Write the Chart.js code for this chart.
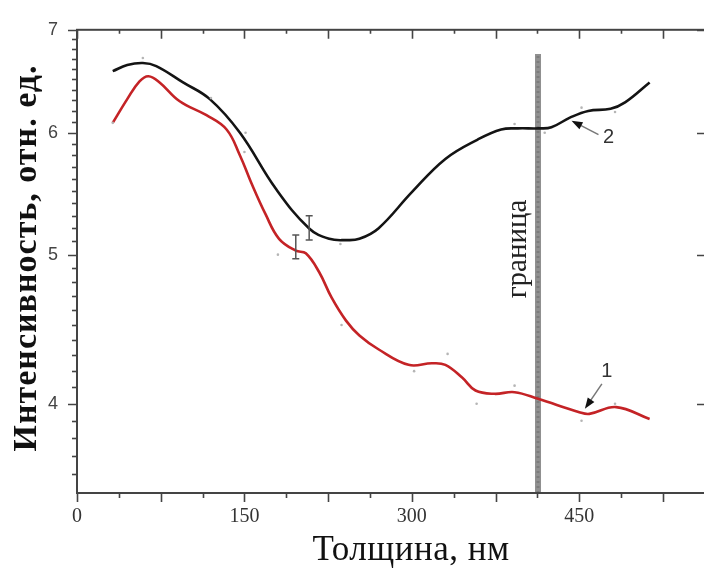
<!DOCTYPE html>
<html>
<head>
<meta charset="utf-8">
<script src="https://cdn.jsdelivr.net/npm/chart.js@4"></script>
<style>
  html, body { margin: 0; padding: 0; background: #fff; overflow: hidden; }
</style>
</head>
<body>
<canvas id="graphCanvas" width="710" height="568"></canvas>
<script>
// Curve 2 (black): intensity vs thickness
const thicknessBlack = [32, 45, 59, 71, 95, 119, 146, 178, 208, 226, 241, 253, 270, 300, 330, 359, 380, 395, 414, 425, 442, 458, 478, 491, 513];
const intensityBlack = [6.58, 6.64, 6.66, 6.63, 6.47, 6.31, 6.00, 5.52, 5.20, 5.12, 5.11, 5.12, 5.20, 5.49, 5.77, 5.94, 6.03, 6.04, 6.04, 6.05, 6.14, 6.20, 6.22, 6.28, 6.47];

// Curve 1 (red)
const thicknessRed = [32, 45, 56, 64, 74, 92, 116, 134, 146, 156, 169, 181, 196, 205, 217, 228, 241, 253, 270, 297, 318, 330, 345, 357, 374, 392, 413, 450, 459, 483, 513];
const intensityRed = [6.09, 6.31, 6.48, 6.53, 6.47, 6.29, 6.16, 6.03, 5.80, 5.57, 5.31, 5.12, 5.03, 5.01, 4.87, 4.69, 4.53, 4.43, 4.34, 4.24, 4.25, 4.24, 4.16, 4.08, 4.06, 4.07, 4.03, 3.95, 3.94, 3.98, 3.91];

// Measured points behind the curves
const dotsBlackX = [59, 120, 151, 236, 392, 419, 452, 482];
const dotsBlackY = [6.71, 6.32, 6.00, 5.08, 6.08, 6.00, 6.23, 6.19];
const dotsRedX = [32, 150, 180, 237, 302, 332, 358, 392, 452, 482];
const dotsRedY = [6.09, 5.83, 5.00, 4.50, 4.20, 4.31, 4.00, 4.11, 3.90, 4.00];

// Error bars
const errX = [196, 208];
const errLow = [4.97, 5.11];
const errHigh = [5.15, 5.30];

// Boundary line
const boundaryX = 413;
const boundaryTop = 6.75;

// Axis ticks
const xTickLabels = [0, 150, 300, 450];
const yTickLabels = [4, 5, 6, 7];

// Curve labels: where each arrow points
const curveLabels = [
  { text: '2', x: 443, y: 6.11, dx: 27, dy: 14 },
  { text: '1', x: 455, y: 3.97, dx: 17, dy: -25 }
];

const toXY = (xs, ys) => xs.map((x, i) => ({ x: x, y: ys[i] }));

const decorPlugin = {
  id: 'decor',
  afterDraw(chart) {
    const ctx = chart.ctx;
    const a = chart.chartArea;
    const xs = chart.scales.x, ys = chart.scales.y;
    ctx.save();

    // frame
    ctx.strokeStyle = '#444';
    ctx.lineWidth = 2;
    ctx.strokeRect(a.left, a.top, a.right - a.left, a.bottom - a.top);

    // x ticks: bottom outward, top inward
    ctx.lineWidth = 1.6;
    for (let v = 0; v <= xs.max; v += 37.5) {
      const px = Math.round(xs.getPixelForValue(v)) + 0.5;
      const major = v % 75 === 0;
      ctx.beginPath();
      ctx.moveTo(px, a.bottom);
      ctx.lineTo(px, a.bottom + (major ? 9 : 5));
      ctx.moveTo(px, a.top);
      ctx.lineTo(px, a.top + (major ? 9 : 4));
      ctx.stroke();
    }
    // y ticks: left outward with minors, right inward (majors only)
    for (let k = 36; k <= 70; k++) {
      const v = k / 10;
      const py = Math.round(ys.getPixelForValue(v)) + 0.5;
      const major = k % 10 === 0;
      ctx.beginPath();
      ctx.moveTo(a.left, py);
      ctx.lineTo(a.left - (major ? 9 : 5), py);
      if (major) {
        ctx.moveTo(a.right, py);
        ctx.lineTo(a.right - 9, py);
      }
      ctx.stroke();
    }

    // error bars
    ctx.strokeStyle = '#555';
    ctx.lineWidth = 1.5;
    errX.forEach((x, i) => {
      const px = xs.getPixelForValue(x);
      const p1 = ys.getPixelForValue(errLow[i]);
      const p2 = ys.getPixelForValue(errHigh[i]);
      ctx.beginPath();
      ctx.moveTo(px, p1); ctx.lineTo(px, p2);
      ctx.moveTo(px - 3.5, p1); ctx.lineTo(px + 3.5, p1);
      ctx.moveTo(px - 3.5, p2); ctx.lineTo(px + 3.5, p2);
      ctx.stroke();
    });

    // arrows with curve numbers
    curveLabels.forEach(l => {
      const tx = xs.getPixelForValue(l.x), ty = ys.getPixelForValue(l.y);
      const sx = tx + l.dx, sy = ty + l.dy;
      const ang = Math.atan2(ty - sy, tx - sx);
      ctx.strokeStyle = '#777';
      ctx.lineWidth = 1.5;
      ctx.beginPath();
      ctx.moveTo(sx, sy);
      ctx.lineTo(tx - 6 * Math.cos(ang), ty - 6 * Math.sin(ang));
      ctx.stroke();
      ctx.fillStyle = '#111';
      ctx.beginPath();
      ctx.moveTo(tx, ty);
      ctx.lineTo(tx - 11 * Math.cos(ang) + 4 * Math.sin(ang), ty - 11 * Math.sin(ang) - 4 * Math.cos(ang));
      ctx.lineTo(tx - 11 * Math.cos(ang) - 4 * Math.sin(ang), ty - 11 * Math.sin(ang) + 4 * Math.cos(ang));
      ctx.closePath();
      ctx.fill();
      ctx.fillStyle = '#333';
      ctx.font = '20px "Liberation Sans", Arial, sans-serif';
      ctx.textAlign = 'center';
      ctx.textBaseline = 'middle';
      if (l.dy > 0) ctx.fillText(l.text, sx + 10, sy + 3);
      else ctx.fillText(l.text, sx + 5, sy - 12);
    });

    // boundary caption
    ctx.fillStyle = '#222';
    ctx.font = '29px "Liberation Serif", serif';
    ctx.textAlign = 'center';
    ctx.textBaseline = 'middle';
    ctx.translate(xs.getPixelForValue(boundaryX) - 20, 249);
    ctx.rotate(-Math.PI / 2);
    ctx.fillText('граница', 0, 0);
    ctx.setTransform(1, 0, 0, 1, 0, 0);

    // axis titles
    ctx.fillStyle = '#111';
    ctx.letterSpacing = '0.5px';
    ctx.font = '35px "Liberation Serif", serif';
    ctx.fillText('Толщина, нм', 411, 551);
    ctx.letterSpacing = '1px';
    ctx.font = 'bold 34px "Liberation Serif", serif';
    ctx.translate(27, 258);
    ctx.rotate(-Math.PI / 2);
    ctx.fillText('Интенсивность, отн. ед.', 0, 0);
    ctx.restore();
  }
};

new Chart(document.getElementById('graphCanvas').getContext('2d'), {
  type: 'line',
  data: {
    datasets: [
      {
        label: 'points 2', type: 'scatter', data: toXY(dotsBlackX, dotsBlackY),
        pointRadius: 1.3, pointBackgroundColor: '#b5b5b5', pointBorderWidth: 0
      },
      {
        label: 'points 1', type: 'scatter', data: toXY(dotsRedX, dotsRedY),
        pointRadius: 1.3, pointBackgroundColor: '#b5b5b5', pointBorderWidth: 0
      },
      {
        label: '2', data: toXY(thicknessBlack, intensityBlack),
        borderColor: '#141414', borderWidth: 2.6, pointRadius: 0, tension: 0.4, fill: false
      },
      {
        label: '1', data: toXY(thicknessRed, intensityRed),
        borderColor: '#c42326', borderWidth: 2.6, pointRadius: 0, tension: 0.4, fill: false
      },
      {
        label: 'граница', data: [{ x: boundaryX, y: 3.5 }, { x: boundaryX, y: boundaryTop }],
        borderColor: 'rgba(125,125,125,0.85)', borderWidth: 6, pointRadius: 0, borderCapStyle: 'butt'
      },
      {
        label: 'граница texture', data: [{ x: boundaryX, y: 3.5 }, { x: boundaryX, y: boundaryTop }],
        borderColor: 'rgba(70,70,70,0.7)', borderWidth: 3, borderDash: [2, 3], pointRadius: 0
      }
    ]
  },
  options: {
    responsive: false,
    animation: false,
    layout: { padding: { top: 27, left: 0, right: 0, bottom: 0 } },
    plugins: { legend: { display: false }, tooltip: { enabled: false } },
    scales: {
      x: {
        type: 'linear', min: 0, max: 563.5,
        afterFit(s) { s.height = 75; },
        afterBuildTicks(s) { s.ticks = xTickLabels.map(v => ({ value: v })); },
        grid: { display: false, drawTicks: false },
        border: { display: false },
        ticks: { color: '#333', padding: 12, font: { family: '"Liberation Serif", serif', size: 20 } }
      },
      y: {
        type: 'logarithmic', min: 3.5, max: 7,
        afterFit(s) { s.width = 77; },
        afterBuildTicks(s) { s.ticks = yTickLabels.map(v => ({ value: v })); },
        grid: { display: false, drawTicks: false },
        border: { display: false },
        ticks: {
          color: '#444', padding: 19,
          font: { family: '"Liberation Sans", Arial, sans-serif', size: 18 },
          callback: v => String(v)
        }
      }
    }
  },
  plugins: [decorPlugin]
});
</script>
</body>
</html>
